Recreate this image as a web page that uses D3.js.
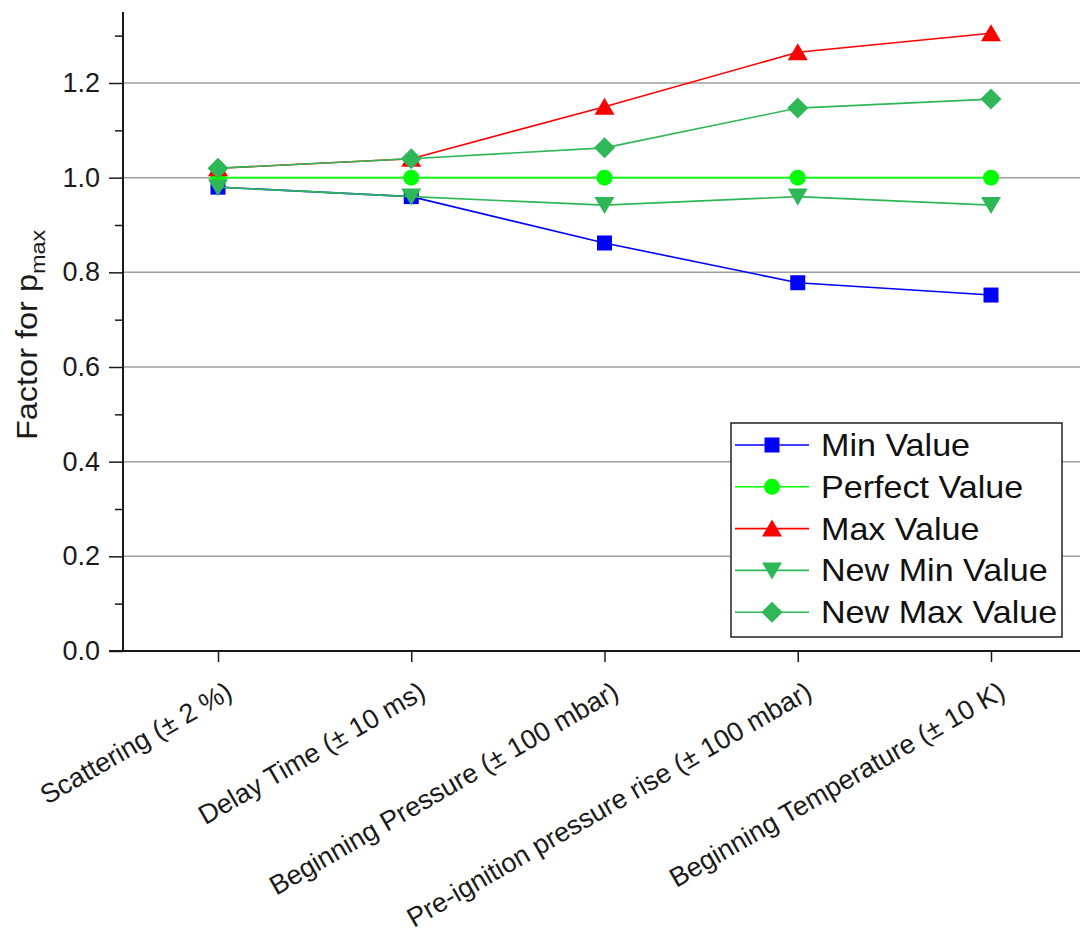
<!DOCTYPE html>
<html>
<head>
<meta charset="utf-8">
<script src="https://cdn.jsdelivr.net/npm/d3@7"></script>
<style>
  html, body { margin: 0; padding: 0; background: #fff; }
  svg { display: block; font-family: "Liberation Sans", Arial, sans-serif; }
</style>
</head>
<body>
<svg id="chart" width="1080" height="934"></svg>
<script>
// ---- data ----
const categories = [
  "Scattering (\u00B1 2 %)",
  "Delay Time (\u00B1 10 ms)",
  "Beginning Pressure (\u00B1 100 mbar)",
  "Pre-ignition pressure rise (\u00B1 100 mbar)",
  "Beginning Temperature (\u00B1 10 K)"
];
const minValue     = [0.98, 0.96, 0.862, 0.778, 0.752];
const perfectValue = [1.00, 1.00, 1.000, 1.000, 1.000];
const maxValue     = [1.02, 1.04, 1.150, 1.265, 1.305];
const newMinValue  = [0.98, 0.96, 0.942, 0.960, 0.942];
const newMaxValue  = [1.02, 1.04, 1.063, 1.147, 1.166];
const seriesNames  = ["Min Value", "Perfect Value", "Max Value", "New Min Value", "New Max Value"];
const yTicks       = [0.0, 0.2, 0.4, 0.6, 0.8, 1.0, 1.2];
const yMinorTicks  = [0.1, 0.3, 0.5, 0.7, 0.9, 1.1, 1.3];

const seriesValues = [minValue, perfectValue, maxValue, newMinValue, newMaxValue];
const seriesColors = ["#0000FF", "#00FF00", "#FF0000", "#2DB757", "#2DB757"];
const seriesSymbols = ["square", "circle", "triangle", "triangleDown", "diamond"];

// ---- layout ----
const svg = d3.select("#chart");
const axisLeft = 123, axisRight = 1080, axisTop = 12, axisBottom = 651;

const x = d3.scalePoint().domain(categories).range([218, 991]);
const y = d3.scaleLinear().domain([0, 1.35]).range([axisBottom, axisTop]);

// gridlines
svg.append("g").selectAll("line").data(yTicks.filter(d => d > 0)).join("line")
  .attr("x1", axisLeft).attr("x2", axisRight)
  .attr("y1", d => y(d)).attr("y2", d => y(d))
  .attr("stroke", "#9e9e9e").attr("stroke-width", 1.5);

// y axis
const yAxis = d3.axisLeft(y).tickValues(yTicks).tickSize(14).tickPadding(9)
  .tickFormat(d3.format(".1f"));
const gy = svg.append("g").attr("transform", `translate(${axisLeft},0)`).call(yAxis);
gy.select(".domain").remove();
gy.selectAll(".tick line").attr("stroke", "#1a1a1a").attr("stroke-width", 1.5);
gy.selectAll(".tick text").attr("font-size", 27).attr("fill", "#1a1a1a")
  .attr("font-family", "'Liberation Sans', Arial, sans-serif");
const yMinor = d3.axisLeft(y).tickValues(yMinorTicks).tickSize(8).tickFormat("");
const gym = svg.append("g").attr("transform", `translate(${axisLeft},0)`).call(yMinor);
gym.select(".domain").remove();
gym.selectAll(".tick line").attr("stroke", "#1a1a1a").attr("stroke-width", 1.5);
svg.append("line").attr("x1", axisLeft).attr("x2", axisLeft)
  .attr("y1", axisTop).attr("y2", axisBottom + 0.75)
  .attr("stroke", "#1a1a1a").attr("stroke-width", 2);

// x axis
const xAxis = d3.axisBottom(x).tickSize(11).tickFormat("");
const gx = svg.append("g").attr("transform", `translate(0,${axisBottom})`).call(xAxis);
gx.select(".domain").remove();
gx.selectAll(".tick line").attr("stroke", "#1a1a1a").attr("stroke-width", 1.5);
svg.append("line").attr("x1", axisLeft - 14).attr("x2", axisRight)
  .attr("y1", axisBottom).attr("y2", axisBottom)
  .attr("stroke", "#1a1a1a").attr("stroke-width", 2);

// rotated category labels
svg.append("g").selectAll("text").data(categories).join("text")
  .attr("transform", d => `translate(${x(d) + 16},${axisBottom + 46}) rotate(-30)`)
  .attr("text-anchor", "end")
  .attr("font-size", 27)
  .attr("fill", "#1a1a1a")
  .text(d => d);

// y title
const yTitle = svg.append("text")
  .attr("transform", `translate(37,440) rotate(-90) scale(1.12,1)`)
  .attr("text-anchor", "start")
  .attr("font-size", 29)
  .attr("fill", "#1a1a1a");
yTitle.append("tspan").text("Factor for p");
yTitle.append("tspan").attr("font-size", 21).attr("dy", 8).text("max");

// symbols
function drawSymbol(g, type, cx, cy, color) {
  if (type === "square") {
    g.append("rect").attr("x", cx - 7.5).attr("y", cy - 7.5).attr("width", 15).attr("height", 15).attr("fill", color);
  } else if (type === "circle") {
    g.append("circle").attr("cx", cx).attr("cy", cy).attr("r", 8).attr("fill", color);
  } else if (type === "triangle") {
    g.append("path").attr("d", `M${cx},${cy - 9}L${cx + 10},${cy + 8}L${cx - 10},${cy + 8}Z`).attr("fill", color);
  } else if (type === "triangleDown") {
    g.append("path").attr("d", `M${cx},${cy + 9}L${cx + 10},${cy - 8}L${cx - 10},${cy - 8}Z`).attr("fill", color);
  } else if (type === "diamond") {
    g.append("path").attr("d", `M${cx},${cy - 10.5}L${cx + 10.5},${cy}L${cx},${cy + 10.5}L${cx - 10.5},${cy}Z`).attr("fill", color);
  }
}

const line = d3.line().x((d, i) => x(categories[i])).y(d => y(d));
seriesValues.forEach((vals, si) => {
  const g = svg.append("g");
  g.append("path").attr("d", line(vals)).attr("fill", "none")
    .attr("stroke", seriesColors[si]).attr("stroke-width", 1.6);
  vals.forEach((v, i) => drawSymbol(g, seriesSymbols[si], x(categories[i]), y(v), seriesColors[si]));
});

// legend
const lg = svg.append("g");
const lgX = 731, lgY = 423, lgW = 331, lgH = 214;
lg.append("rect").attr("x", lgX).attr("y", lgY).attr("width", lgW).attr("height", lgH)
  .attr("fill", "#fff").attr("stroke", "#222").attr("stroke-width", 1.5);
seriesNames.forEach((name, i) => {
  const cy = 445 + i * 41.8;
  lg.append("line").attr("x1", 735).attr("x2", 809).attr("y1", cy).attr("y2", cy)
    .attr("stroke", seriesColors[i]).attr("stroke-width", 1.6);
  drawSymbol(lg, seriesSymbols[i], 772, cy, seriesColors[i]);
  lg.append("text").attr("transform", `translate(821,${cy + 11}) scale(1.1,1)`)
    .attr("font-size", 31).attr("fill", "#111").text(name);
});
</script>
</body>
</html>
